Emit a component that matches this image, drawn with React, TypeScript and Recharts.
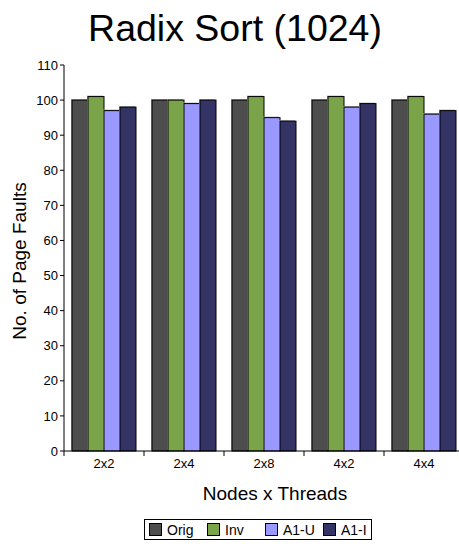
import { BarChart, Bar, XAxis, YAxis } from 'recharts';

const categories = ['2x2', '2x4', '2x8', '4x2', '4x4'];
const origValues = [100, 100, 100, 100, 100];
const invValues = [101, 100, 101, 101, 101];
const a1uValues = [97, 99, 95, 98, 96];
const a1iValues = [98, 100, 94, 99, 97];
const yTicks = [0, 10, 20, 30, 40, 50, 60, 70, 80, 90, 100, 110];

const series = [
  { key: 'orig', name: 'Orig', color: '#4d4d4d' },
  { key: 'inv', name: 'Inv', color: '#7ba34a' },
  { key: 'a1u', name: 'A1-U', color: '#9999ff' },
  { key: 'a1i', name: 'A1-I', color: '#333366' },
];

const data = categories.map((c, i) => ({
  cat: c,
  orig: origValues[i],
  inv: invValues[i],
  a1u: a1uValues[i],
  a1i: a1iValues[i],
}));

const FONT = '"Liberation Sans", Arial, sans-serif';

/* bar with a thin grey shadow above-left, like the old Excel look */
const ShadowBar = (props: any) => {
  const { x, y, width, height, fill } = props;
  if (!height) return null;
  return (
    <g>
      <rect x={x - 1} y={y - 1} width={width} height={height} fill="#aaa" />
      <rect x={x} y={y} width={width} height={height} fill={fill} stroke="#000" strokeWidth={1} />
    </g>
  );
};

/* category label plus a tick mark on the boundary between categories */
const CatTick = (props: any) => {
  const { x, y, payload, index } = props;
  const half = 40;
  return (
    <g>
      <line x1={x - half} y1={y - 8} x2={x - half} y2={y - 3} stroke="#000" />
      {index === categories.length - 1 && (
        <line x1={x + half} y1={y - 8} x2={x + half} y2={y - 3} stroke="#000" />
      )}
      <text x={x} y={y + 9} textAnchor="middle" fontSize={13} fontFamily={FONT} fill="#000">
        {payload.value}
      </text>
    </g>
  );
};

export default function App() {
  return (
    <div
      style={{
        position: 'absolute',
        left: 0,
        top: 0,
        width: 459,
        height: 550,
        overflow: 'hidden',
        background: '#fff',
        fontFamily: FONT,
        color: '#000',
      }}
    >
      <div
        style={{
          position: 'absolute',
          left: 235,
          top: 10,
          transform: 'translateX(-50%)',
          fontSize: 37.5,
          lineHeight: 1,
          whiteSpace: 'nowrap',
        }}
      >
        Radix Sort (1024)
      </div>

      <BarChart
        width={470}
        height={550}
        data={data}
        margin={{ top: 65, right: 6, left: 0, bottom: 0 }}
        barCategoryGap={8}
        barGap={0}
      >
        <XAxis
          dataKey="cat"
          height={99}
          axisLine={{ stroke: '#000' }}
          tickLine={false}
          tick={<CatTick />}
          interval={0}
        />
        <YAxis
          width={64}
          domain={[0, 110]}
          ticks={yTicks}
          interval={0}
          axisLine={{ stroke: '#000' }}
          tickLine={{ stroke: '#000' }}
          tickSize={4}
          tickMargin={2}
          tick={{ fontSize: 13, fill: '#000', fontFamily: FONT }}
        />
        {series.map((s) => (
          <Bar
            key={s.key}
            dataKey={s.key}
            name={s.name}
            fill={s.color}
            shape={<ShadowBar />}
            isAnimationActive={false}
          />
        ))}
      </BarChart>

      <div
        style={{
          position: 'absolute',
          left: 18.5,
          top: 261,
          transform: 'translate(-50%, -50%) rotate(-90deg)',
          fontSize: 19,
          lineHeight: 1,
          whiteSpace: 'nowrap',
        }}
      >
        No. of Page Faults
      </div>

      <div
        style={{
          position: 'absolute',
          left: 275,
          top: 484,
          transform: 'translateX(-50%)',
          fontSize: 19,
          lineHeight: 1,
          whiteSpace: 'nowrap',
        }}
      >
        Nodes x Threads
      </div>

      <div
        style={{
          position: 'absolute',
          left: 144,
          top: 519,
          height: 19,
          border: '1px solid #000',
          display: 'flex',
          alignItems: 'center',
          padding: '0 4px 0 4px',
          fontSize: 14,
          whiteSpace: 'nowrap',
        }}
      >
        {series.map((s, i) => (
          <span
            key={s.key}
            style={{
              display: 'flex',
              alignItems: 'center',
              flex: 'none',
              width: i < series.length - 1 ? 58 : 'auto',
            }}
          >
            <span
              style={{
                display: 'inline-block',
                flex: 'none',
                width: 13,
                height: 13,
                background: s.color,
                border: '1px solid #000',
                marginRight: 5,
                boxSizing: 'border-box',
              }}
            />
            {s.name}
          </span>
        ))}
      </div>
    </div>
  );
}
